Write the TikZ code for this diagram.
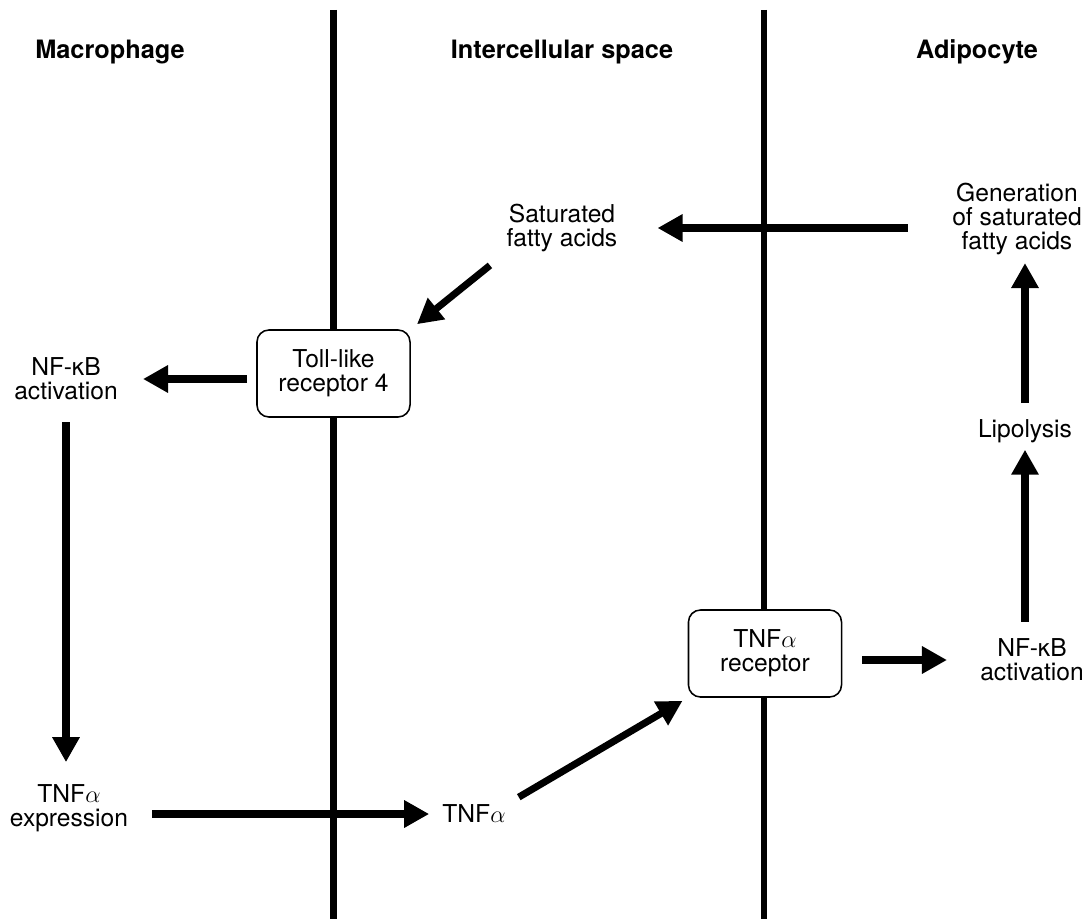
\documentclass[tikz,border=0pt]{standalone}
\usepackage{fontspec}
\setmainfont{TeX Gyre Heros}
\usepackage{tikz}
\usetikzlibrary{arrows.meta, positioning}

\begin{document}
\begin{tikzpicture}[x=0.025cm, y=-0.025cm,
    txt/.style={inner sep=0pt, align=center, font=\fontsize{17.5}{17}\selectfont},
    head/.style={anchor=base, inner sep=0pt, font=\fontsize{18}{20}\selectfont\bfseries},
    recbox/.style={draw, fill=white, rounded corners=0.3cm, line width=1.1pt, align=center,
        minimum width=3.825cm, minimum height=2.175cm, font=\fontsize{17.5}{17}\selectfont},
    flow/.style={-{Triangle[length=0.625cm, width=0.65cm]}, line width=5pt},
    membrane/.style={line width=4.3pt}]
    \useasboundingbox (0,0) rectangle (1086,919);

    % --- Compartment titles ---
    \node[head] (tmac) at (110,59) {Macrophage};
    \node[head] (tint) at (562,59) {Intercellular space};
    \node[head] (tadi) at (977,59) {Adipocyte};

    % --- Cell membranes ---
    \draw[membrane] (333.5,10) -- (333.5,919);
    \draw[membrane] (764,10) -- (764,919);

    % --- Receptors (sit on the membranes) ---
    \node[recbox] (tlr) at (333.5,373.5) {Toll-like\\receptor 4};
    \node[recbox] (tnfr) at (765,653.5) {TNF$\alpha$\\receptor};

    % --- Macrophage side ---
    \node[txt] (nfl) at (66,379) {NF-κB\\activation};
    \node[txt] (tnfe) at (69,808) {TNF$\alpha$\\expression};

    % --- Intercellular space ---
    \node[txt] (sat) at (562,228) {Saturated\\fatty acids};
    \node[txt] (tnf) at (474,814) {TNF$\alpha$};

    % --- Adipocyte side ---
    \node[txt] (nfr) at (1032,660) {NF-κB\\activation};
    \node[txt] (lip) at (1025,431) {Lipolysis};
    \node[txt] (gen) at (1017,219) {Generation\\of saturated\\fatty acids};

    % --- Signalling loop ---
    \draw[flow, shorten <=1.1cm, shorten >=1.0cm] (gen.west |- sat.east) -- (sat.east);
    \draw[flow, shorten <=0.53cm, shorten >=0.2cm] (sat.south west) -- (tlr.north east);
    \draw[flow, shorten <=0.225cm, shorten >=0.625cm] (tlr.west |- nfl.east) -- (nfl.east);
    \draw[flow, shorten <=0.55cm, shorten >=0.55cm] (nfl.south) -- (nfl.south |- tnfe.north);
    \draw[flow, shorten <=0.6cm, shorten >=0.325cm] (tnfe.east |- tnf.west) -- (tnf.west);
    \draw[flow, shorten <=0.375cm, shorten >=0.15cm] (tnf.north east) -- (tnfr.south west);
    \draw[flow, shorten <=0.5cm, shorten >=0.825cm] (tnfr.east |- nfr.west) -- (nfr.west);
    \draw[flow, shorten <=0.42cm, shorten >=0.17cm] (lip.south |- nfr.north) -- (lip.south);
    \draw[flow, shorten <=0.4cm, shorten >=0.2cm] (lip.north) -- (lip.north |- gen.south);
\end{tikzpicture}
\end{document}
